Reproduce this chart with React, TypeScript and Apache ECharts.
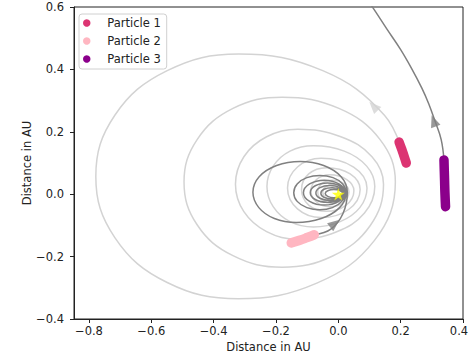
import React, { useEffect, useRef } from 'react';
import * as echarts from 'echarts';

const particleNames = ['Particle 1', 'Particle 2', 'Particle 3'];
const xTickValues = [-0.8, -0.6, -0.4, -0.2, 0.0, 0.2, 0.4];
const yTickValues = [-0.4, -0.2, 0.0, 0.2, 0.4, 0.6];

// recent positions of each particle (thick marks)
const particle1Trail = [[0.195, 0.167], [0.203, 0.145], [0.211, 0.122], [0.218, 0.1]];
const particle2Trail = [[-0.151, -0.156], [-0.125, -0.148], [-0.1, -0.139], [-0.077, -0.13]];
const particle3Trail = [[0.339, 0.11], [0.34, 0.075], [0.341, 0.04], [0.342, 0.005], [0.344, -0.04]];

// predicted trajectories (loop by loop)
const particle1Path = [
  [0.217, 0.1], [0.148, 0.253], [-0.05, 0.396], [-0.32, 0.449], [-0.549, 0.396], [-0.717, 0.253],
  [-0.778, 0.057], [-0.717, -0.139], [-0.549, -0.283], [-0.32, -0.335], [-0.069, -0.285], [0.116, -0.148],
  [0.183, 0.039], [0.134, 0.175], [0.002, 0.275], [-0.18, 0.311], [-0.338, 0.275], [-0.453, 0.175],
  [-0.495, 0.039], [-0.453, -0.098], [-0.338, -0.197], [-0.18, -0.234], [-0.018, -0.198], [0.102, -0.101],
  [0.145, 0.032], [0.108, 0.12], [0.008, 0.184], [-0.13, 0.208], [-0.23, 0.184], [-0.303, 0.12],
  [-0.33, 0.032], [-0.303, -0.056], [-0.23, -0.12], [-0.13, -0.144], [-0.007, -0.121], [0.084, -0.06],
  [0.117, 0.025], [0.091, 0.09], [0.019, 0.138], [-0.08, 0.155], [-0.155, 0.138], [-0.209, 0.09],
  [-0.229, 0.025], [-0.209, -0.04], [-0.155, -0.088], [-0.08, -0.105], [0.006, -0.088], [0.069, -0.043],
  [0.092, 0.02], [0.049, 0.087], [-0.055, 0.115], [-0.131, 0.087], [-0.163, 0.02], [-0.131, -0.047],
  [-0.055, -0.075], [0.033, -0.049],
  [0.07, 0.015], [0.038, 0.065], [-0.038, 0.085], [-0.095, 0.065], [-0.118, 0.015], [-0.095, -0.035],
  [-0.038, -0.055], [0.024, -0.036],
  [0.05, 0.011], [0.027, 0.047], [-0.028, 0.062], [-0.07, 0.047], [-0.088, 0.011], [-0.07, -0.025],
  [-0.028, -0.04], [0.016, -0.026],
  [0.034, 0.008], [0.018, 0.034], [-0.02, 0.045], [-0.053, 0.034], [-0.066, 0.008], [-0.053, -0.018],
  [-0.02, -0.029], [0.01, -0.019],
  [0.022, 0.006], [0.011, 0.024], [-0.015, 0.032], [-0.04, 0.024], [-0.05, 0.006], [-0.04, -0.012],
  [-0.015, -0.02], [0.006, -0.013], [0.014, 0.004]
];

const particle2Path = [
  [-0.077, -0.13], [-0.024, -0.112], [0.015, -0.062], [0.029, 0.006],
  [0.009, 0.056], [-0.047, 0.092], [-0.122, 0.105], [-0.198, 0.092], [-0.254, 0.056], [-0.274, 0.006],
  [-0.255, -0.043], [-0.205, -0.078], [-0.135, -0.091], [-0.055, -0.078], [0.004, -0.043],
  [0.025, 0.005], [0.014, 0.033], [-0.017, 0.053], [-0.059, 0.06], [-0.101, 0.053], [-0.132, 0.033],
  [-0.143, 0.005], [-0.132, -0.023], [-0.101, -0.043], [-0.059, -0.05], [-0.019, -0.043], [0.011, -0.023],
  [0.022, 0.005], [0.002, 0.033], [-0.045, 0.045], [-0.092, 0.033], [-0.112, 0.005], [-0.092, -0.023],
  [-0.045, -0.035], [0.001, -0.023],
  [0.02, 0.005], [0.004, 0.027], [-0.035, 0.036], [-0.074, 0.027], [-0.09, 0.005], [-0.074, -0.017],
  [-0.035, -0.026], [0.003, -0.017],
  [0.018, 0.004], [0.005, 0.021], [-0.027, 0.028], [-0.059, 0.021], [-0.072, 0.004], [-0.059, -0.013],
  [-0.027, -0.02], [0.003, -0.013],
  [0.016, 0.003], [0.006, 0.016], [-0.02, 0.021], [-0.046, 0.016], [-0.056, 0.003], [-0.046, -0.01],
  [-0.02, -0.015], [0.004, -0.01],
  [0.014, 0.002], [0.006, 0.011], [-0.014, 0.015], [-0.034, 0.011], [-0.042, 0.002], [-0.034, -0.007],
  [-0.014, -0.011], [0.003, -0.008], [0.01, 0.001]
];

const particle3Path = [
  [0.339, 0.11], [0.33, 0.175], [0.311, 0.232], [0.29, 0.29], [0.268, 0.34], [0.234, 0.405],
  [0.199, 0.465], [0.156, 0.529], [0.108, 0.602], [0.06, 0.67]
];

const arrowPoints = [[0.113, 0.282], [-0.011, -0.094], [0.306, 0.235]];
const arrowAngles = [44, -52, 20];
const starPoint = [[0, 0]];

const particleColors = ['#dc3472', '#ffb6c1', '#8b008b'];
const lightPath = '#d3d3d3';
const darkPath = '#808080';
const arrowColors = [lightPath, darkPath, darkPath];

const FONT = 'DejaVu Sans';
const fmt = (v: number) => (v < -1e-9 ? '\u2212' : '') + Math.abs(v).toFixed(1);
const xFmt = (v: number) => (Math.abs(v - 0.4) < 1e-9 ? '{edge|' + fmt(v) + '}' : fmt(v));

const STAR =
  'path://M50 0 L61.2 34.5 L97.6 34.5 L68.2 55.9 L79.4 90.5 L50 69.1 L20.6 90.5 L31.8 55.9 L2.4 34.5 L38.8 34.5 Z';

export default function App() {
  const ref = useRef<HTMLDivElement>(null);
  useEffect(() => {
    document.body.style.margin = '0';
    if (!ref.current) return;
    const chart = echarts.init(ref.current, undefined, { renderer: 'svg' });
    const pathLine = (name: string, data: number[][], color: string) => ({
      name,
      type: 'line',
      data,
      smooth: 0.4,
      smoothMonotone: 'none',
      symbol: 'none',
      lineStyle: { color, width: 1.5 },
      itemStyle: { color },
      z: 2,
      silent: true,
    });
    const trail = (name: string, data: number[][], color: string) => ({
      name,
      type: 'line',
      data,
      smooth: true,
      symbol: 'none',
      color,
      lineStyle: { color, width: 9.5, cap: 'round', join: 'round' },
      itemStyle: { color },
      z: 4,
    });
    chart.setOption({
      animation: false,
      backgroundColor: '#ffffff',
      textStyle: { fontFamily: FONT },
      grid: {
        left: 74,
        right: 7,
        top: 7,
        bottom: 39,
        outerBoundsMode: 'none',
        containLabel: false,
        show: true,
        borderColor: '#222',
        borderWidth: 1,
        backgroundColor: 'transparent',
      },
      legend: {
        data: particleNames,
        orient: 'vertical',
        left: 79,
        top: 14,
        padding: [2, 6, 3, 4],
        itemGap: 4,
        itemWidth: 25,
        itemHeight: 7.5,
        icon: 'circle',
        itemStyle: { borderWidth: 0 },
        textStyle: { fontFamily: FONT, fontSize: 11.5, color: '#222', lineHeight: 14, padding: [0, 0, 0, 3] },
        borderColor: '#d0d0d0',
        borderWidth: 1,
        borderRadius: 3,
        backgroundColor: 'rgba(255,255,255,0.8)',
      },
      xAxis: {
        type: 'value',
        min: -0.848,
        max: 0.4,
        name: 'Distance in AU',
        nameLocation: 'middle',
        nameGap: 22,
        nameMoveOverlap: false,
        nameTextStyle: { fontFamily: FONT, fontSize: 11.5, color: '#222' },
        axisLine: { show: true, onZero: false, lineStyle: { color: '#222', width: 1 } },
        axisTick: { show: true, length: 4, lineStyle: { color: '#222' }, customValues: xTickValues },
        axisLabel: {
          fontFamily: FONT,
          fontSize: 11.5,
          color: '#222',
          margin: 6,
          formatter: xFmt,
          customValues: xTickValues,
          rich: { edge: { fontFamily: FONT, fontSize: 11.5, color: '#222', padding: [0, 8, 0, 0] } },
        },
        splitLine: { show: false },
      },
      yAxis: {
        type: 'value',
        min: -0.4,
        max: 0.6,
        interval: 0.2,
        name: 'Distance in AU',
        nameLocation: 'middle',
        nameGap: 41,
        nameMoveOverlap: false,
        nameTextStyle: { fontFamily: FONT, fontSize: 11.5, color: '#222' },
        axisLine: { show: true, onZero: false, lineStyle: { color: '#222', width: 1 } },
        axisTick: { show: true, length: 4, lineStyle: { color: '#222' }, customValues: yTickValues },
        axisLabel: { fontFamily: FONT, fontSize: 11.5, color: '#222', margin: 10, formatter: fmt, customValues: yTickValues },
        splitLine: { show: false },
      },
      series: [
        pathLine('path1', particle1Path, lightPath),
        pathLine('path2', particle2Path, darkPath),
        pathLine('path3', particle3Path, darkPath),
        {
          name: 'arrows',
          type: 'scatter',
          symbol: 'triangle',
          symbolSize: [10, 12],
          silent: true,
          z: 3,
          data: arrowPoints.map((p, i) => ({
            value: p,
            symbolRotate: arrowAngles[i],
            itemStyle: { color: arrowColors[i] },
          })),
        },
        trail(particleNames[0], particle1Trail, particleColors[0]),
        trail(particleNames[1], particle2Trail, particleColors[1]),
        trail(particleNames[2], particle3Trail, particleColors[2]),
        {
          name: 'star',
          type: 'scatter',
          symbol: STAR,
          symbolSize: 13,
          symbolKeepAspect: true,
          itemStyle: { color: '#ffff00' },
          z: 5,
          data: starPoint,
        },
      ],
    });
    return () => chart.dispose();
  }, []);
  return <div ref={ref} style={{ width: 470, height: 358 }} />;
}
